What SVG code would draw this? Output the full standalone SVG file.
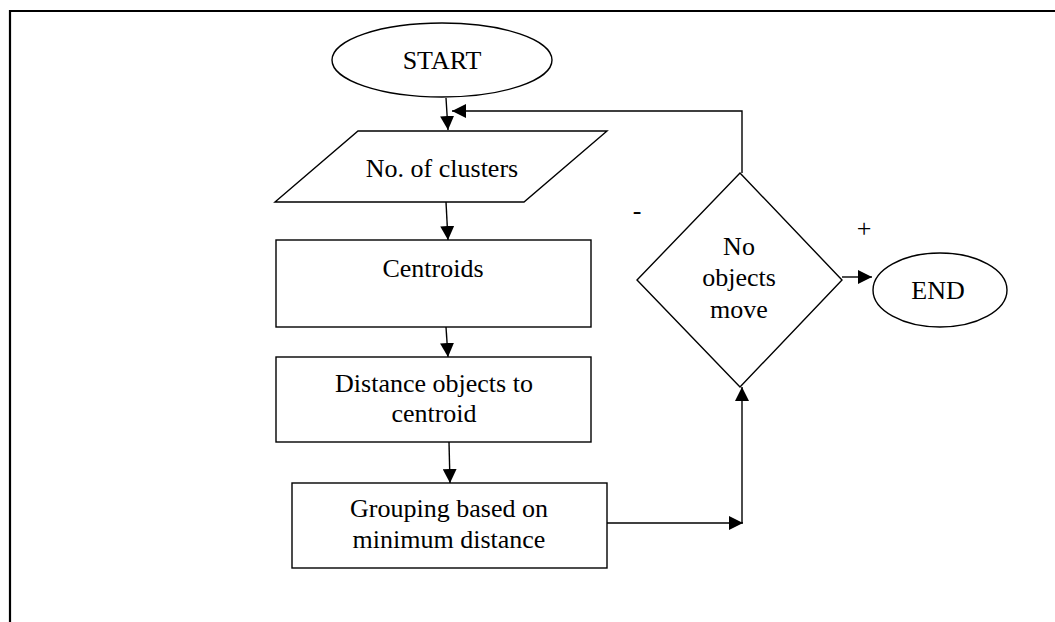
<svg xmlns="http://www.w3.org/2000/svg" width="1055" height="622" viewBox="0 0 1055 622">
<defs>
<marker id="ah" viewBox="0 0 10 10" refX="10" refY="5" markerWidth="14" markerHeight="14" markerUnits="userSpaceOnUse" orient="auto"><path d="M0,0 L10,5 L0,10 z" fill="#000"/></marker>
<style>
.s{fill:#fff;stroke:#000;stroke-width:1.4}
.t{font-family:"Liberation Serif","Times New Roman",serif;font-size:26px;fill:#000;text-anchor:middle}
.c{fill:none;stroke:#000;stroke-width:1.4}
</style>
</defs>
<rect width="1055" height="622" fill="#fff"/>
<path d="M10,622 V11 H1055" fill="none" stroke="#000" stroke-width="2.2"/>
<g id="start"><ellipse class="s" cx="442" cy="60" rx="110" ry="37"/><text class="t" x="442" y="69">START</text></g>
<g id="clusters"><polygon class="s" points="358,131 607,131 524,202 275,202"/><text class="t" x="442" y="177">No. of clusters</text></g>
<g id="centroids"><rect class="s" x="276" y="240" width="315" height="87"/><text class="t" x="433" y="277">Centroids</text></g>
<g id="distance"><rect class="s" x="276" y="357" width="315" height="85"/><text class="t" x="434" y="392">Distance objects to</text><text class="t" x="434" y="422">centroid</text></g>
<g id="grouping"><rect class="s" x="292" y="483" width="315" height="85"/><text class="t" x="449" y="517">Grouping based on</text><text class="t" x="449" y="548">minimum distance</text></g>
<g id="decision"><polygon class="s" points="740,173 842,280 740,387 637,280"/><text class="t" x="739" y="255">No</text><text class="t" x="739" y="286">objects</text><text class="t" x="739" y="318">move</text></g>
<g id="end"><ellipse class="s" cx="940" cy="290" rx="67" ry="37"/><text class="t" x="938" y="299">END</text></g>
<g id="connectors">
<line class="c" x1="446" y1="98" x2="448" y2="130" marker-end="url(#ah)"/>
<line class="c" x1="446" y1="202" x2="448" y2="240" marker-end="url(#ah)"/>
<line class="c" x1="446" y1="327" x2="448" y2="357" marker-end="url(#ah)"/>
<line class="c" x1="449" y1="442" x2="450" y2="483" marker-end="url(#ah)"/>
<polyline class="c" points="607,523 743,523" marker-end="url(#ah)"/>
<polyline class="c" points="742,523 742,387" marker-end="url(#ah)"/>
<polyline class="c" points="742,173 742,111 452,111" marker-end="url(#ah)"/>
<line class="c" x1="842" y1="277" x2="872" y2="277" marker-end="url(#ah)"/>
<text class="t" x="637" y="219">-</text>
<text class="t" x="864" y="237">+</text>
</g>
</svg>
